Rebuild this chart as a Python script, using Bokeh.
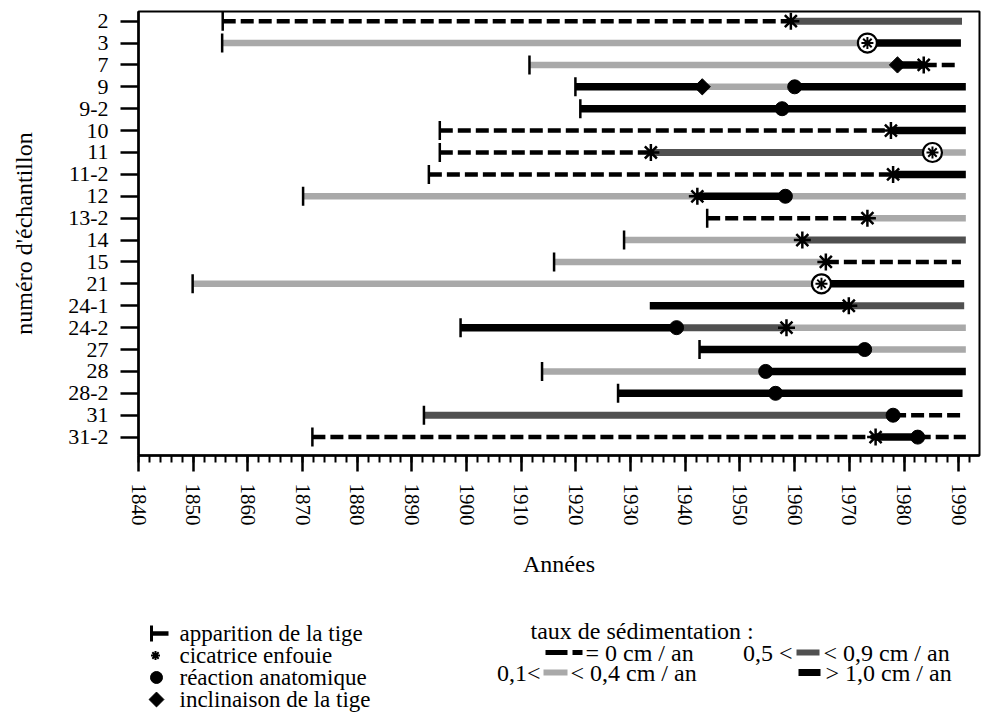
import math
from bokeh.plotting import figure
from bokeh.models import Range1d, FixedTicker, ColumnDataSource
from bokeh.layouts import column
from bokeh.embed import file_html
from bokeh.resources import INLINE
from bokeh.core.properties import value

# ---------------- data ----------------
samples = ["2", "3", "7", "9", "9-2", "10", "11", "11-2", "12", "13-2",
           "14", "15", "21", "24-1", "24-2", "27", "28", "28-2", "31", "31-2"]

year_ticks = list(range(1840, 1991, 10))
year_minor = list(range(1840, 1995, 2))

# sedimentation phases (sample, from year, to year, rate class)
phase_sample = ["2", "2", "3", "3", "7", "7", "7", "9", "9", "9", "9-2",
                "10", "10", "11", "11", "11", "11-2", "11-2", "12", "12", "12",
                "13-2", "13-2", "14", "14", "15", "15", "21", "21",
                "24-1", "24-1", "24-2", "24-2", "24-2", "27", "27", "28", "28",
                "28-2", "31", "31", "31-2", "31-2", "31-2"]
phase_from = [1855.4, 1959.3, 1855.3, 1973.3, 1911.5, 1978.8, 1983.6, 1919.9, 1943.1, 1960.0, 1920.8,
              1895.1, 1977.6, 1895.1, 1933.7, 1985.2, 1893.1, 1978.0, 1870.1, 1942.2, 1958.3,
              1944.0, 1973.3, 1928.8, 1961.4, 1916.0, 1965.7, 1849.9, 1964.9,
              1933.5, 1969.9, 1898.9, 1938.4, 1958.5, 1942.6, 1972.8, 1913.8, 1954.7,
              1927.7, 1892.2, 1978.0, 1871.8, 1974.8, 1982.5]
phase_to = [1959.3, 1990.6, 1973.3, 1990.4, 1978.8, 1983.6, 1989.9, 1943.1, 1960.0, 1991.3, 1991.3,
            1977.6, 1991.3, 1933.7, 1985.2, 1991.3, 1978.0, 1991.3, 1942.2, 1958.3, 1991.3,
            1973.3, 1991.3, 1961.4, 1991.3, 1965.7, 1990.4, 1964.9, 1991.0,
            1969.9, 1991.0, 1938.4, 1958.5, 1991.3, 1972.8, 1991.3, 1954.7, 1991.3,
            1990.7, 1978.0, 1990.7, 1974.8, 1982.5, 1991.3]
phase_rate = ["0", "0.5-0.9", "0.1-0.4", ">1.0", "0.1-0.4", ">1.0", "0", ">1.0", "0.1-0.4", ">1.0", ">1.0",
              "0", ">1.0", "0", "0.5-0.9", "0.1-0.4", "0", ">1.0", "0.1-0.4", ">1.0", "0.1-0.4",
              "0", "0.1-0.4", "0.1-0.4", "0.5-0.9", "0.1-0.4", "0", "0.1-0.4", ">1.0",
              ">1.0", "0.5-0.9", ">1.0", "0.5-0.9", "0.1-0.4", ">1.0", "0.1-0.4", "0.1-0.4", ">1.0",
              ">1.0", "0.5-0.9", "0", "0", ">1.0", "0"]

# stem emergence (apparition de la tige)
emergence_sample = ["2", "3", "7", "9", "9-2", "10", "11", "11-2", "12", "13-2",
                    "14", "15", "21", "24-2", "27", "28", "28-2", "31", "31-2"]
emergence_year = [1855.4, 1855.3, 1911.5, 1919.9, 1920.8, 1895.1, 1895.1, 1893.1, 1870.1, 1944.0,
                  1928.8, 1916.0, 1849.9, 1898.9, 1942.6, 1913.8, 1927.7, 1892.2, 1871.8]

# buried scars (cicatrice enfouie)
scar_sample = ["2", "7", "10", "11", "11-2", "12", "13-2", "14", "15", "24-1", "24-2", "31-2"]
scar_year = [1959.3, 1983.6, 1977.6, 1933.7, 1978.0, 1942.2, 1973.3, 1961.4, 1965.7, 1969.9, 1958.5, 1974.8]

# anatomical reactions (réaction anatomique)
reaction_sample = ["9", "9-2", "12", "24-2", "27", "28", "28-2", "31", "31-2"]
reaction_year = [1960.0, 1957.7, 1958.3, 1938.4, 1972.8, 1954.7, 1956.5, 1978.0, 1982.5]

# stem tilting (inclinaison de la tige)
tilt_sample = ["7", "9"]
tilt_year = [1978.8, 1943.1]

# scar + reaction at the same year (circled asterisk)
both_sample = ["3", "11", "21"]
both_year = [1973.3, 1985.2, 1964.9]

# ---------------- figure ----------------
SERIF = "Liberation Serif"
LIGHT = "#a9a9a9"
DARK = "#505050"
row = {s: i for i, s in enumerate(samples)}

MAIN_H = 596
LEG_H = 116

p = figure(width=983, height=MAIN_H, output_backend="svg", toolbar_location=None,
           x_range=Range1d(1840, 1993.8), y_range=Range1d(19.84, -0.44),
           min_border_left=138, min_border_right=4, min_border_top=11,
           min_border_bottom=MAIN_H - 455)
p.xgrid.visible = False
p.ygrid.visible = False
p.outline_line_color = "black"
p.outline_line_width = 2
p.background_fill_color = "white"
p.border_fill_color = "white"

styles = {
    "0.1-0.4": dict(line_color=LIGHT, line_width=6.5),
    "0.5-0.9": dict(line_color=DARK, line_width=7),
    ">1.0": dict(line_color="black", line_width=7.5),
    "0": dict(line_color="black", line_width=4.5, line_dash="13 5"),
}
for rate, st in styles.items():
    idx = [k for k, r in enumerate(phase_rate) if r == rate]
    src = ColumnDataSource(dict(x0=[phase_from[k] for k in idx],
                                x1=[phase_to[k] for k in idx],
                                y=[row[phase_sample[k]] for k in idx]))
    p.segment(x0="x0", y0="y", x1="x1", y1="y", source=src, line_cap="butt", **st)

p.scatter(x=emergence_year, y=[row[s] for s in emergence_sample], marker="dash",
          angle=math.pi / 2, size=19, line_color="black", line_width=2.5)
p.scatter(x=scar_year, y=[row[s] for s in scar_sample], marker="asterisk",
          size=17, line_color="black", line_width=2.5)
p.scatter(x=reaction_year, y=[row[s] for s in reaction_sample], marker="circle",
          size=14, fill_color="black", line_color="black")
p.scatter(x=tilt_year, y=[row[s] for s in tilt_sample], marker="square", angle=math.pi / 4,
          size=11.5, fill_color="black", line_color="black")
p.scatter(x=both_year, y=[row[s] for s in both_sample], marker="circle",
          size=19, fill_color="white", line_color="black", line_width=2.2)
p.scatter(x=both_year, y=[row[s] for s in both_sample], marker="asterisk",
          size=12, line_color="black", line_width=2)

# x axis
xa = p.xaxis[0]
xa.ticker = FixedTicker(ticks=year_ticks, minor_ticks=year_minor)
xa.major_label_orientation = "vertical"
xa.major_tick_out = 16
xa.major_tick_in = 0
xa.minor_tick_out = 7
xa.minor_tick_in = 0
xa.axis_line_width = 2.5
xa.major_tick_line_width = 2.5
xa.minor_tick_line_width = 2
xa.major_label_standoff = 12
xa.major_label_text_font = SERIF
xa.major_label_text_font_size = "21px"
xa.major_label_text_color = "black"
xa.axis_label = "Années"
xa.axis_label_text_font = SERIF
xa.axis_label_text_font_size = "24px"
xa.axis_label_text_font_style = "normal"
xa.axis_label_text_color = "black"
xa.axis_label_standoff = 22

# y axis
ya = p.yaxis[0]
ya.ticker = FixedTicker(ticks=list(range(len(samples))), minor_ticks=[])
ya.major_label_overrides = {i: s for i, s in enumerate(samples)}
ya.major_tick_out = 18
ya.major_tick_in = 0
ya.minor_tick_out = 0
ya.minor_tick_in = 0
ya.axis_line_width = 2.5
ya.major_tick_line_width = 2.5
ya.major_label_standoff = 12
ya.major_label_text_font = SERIF
ya.major_label_text_font_size = "22px"
ya.major_label_text_color = "black"
ya.axis_label = "numéro d'échantillon"
ya.axis_label_text_font = SERIF
ya.axis_label_text_font_size = "24px"
ya.axis_label_text_font_style = "normal"
ya.axis_label_text_color = "black"
ya.axis_label_standoff = 28

# ---------------- legend (separate panel below, pixel-like coordinates) ----------------
leg = figure(width=983, height=LEG_H, output_backend="svg", toolbar_location=None,
             x_range=Range1d(138, 979), y_range=Range1d(MAIN_H + LEG_H, MAIN_H),
             x_axis_type=None, y_axis_type=None,
             min_border_left=138, min_border_right=4, min_border_top=0, min_border_bottom=0)
leg.xgrid.visible = False
leg.ygrid.visible = False
leg.outline_line_color = None
leg.background_fill_color = "white"
leg.border_fill_color = "white"

# left column symbols
leg.segment(x0=[151], y0=[625], x1=[151], y1=[641], line_color="black", line_width=3)
leg.segment(x0=[151], y0=[633], x1=[168], y1=[633], line_color="black", line_width=4.5, line_cap="butt")
leg.scatter(x=[155], y=[655], marker="asterisk", size=9, line_color="black", line_width=2)
leg.scatter(x=[156], y=[677], marker="circle", size=12, fill_color="black", line_color="black")
leg.scatter(x=[156], y=[699], marker="square", angle=math.pi / 4, size=10.5,
            fill_color="black", line_color="black")
left_texts = ["apparition de la tige", "cicatrice enfouie", "réaction anatomique", "inclinaison de la tige"]
leg.text(x=[179] * 4, y=[633, 655, 677, 699], text=left_texts, text_font=value(SERIF),
         text_font_size=value("23px"), text_baseline="middle", text_align="left", text_color="black")

# right column (sedimentation rates)
leg.segment(x0=[545], y0=[652], x1=[582], y1=[652], line_color="black", line_width=5,
            line_dash="22 5", line_cap="butt")
leg.segment(x0=[796], y0=[652], x1=[819], y1=[652], line_color=DARK, line_width=6, line_cap="butt")
leg.segment(x0=[543], y0=[672], x1=[567], y1=[672], line_color=LIGHT, line_width=6, line_cap="butt")
leg.segment(x0=[798], y0=[672], x1=[820], y1=[672], line_color="black", line_width=7, line_cap="butt")
left_aligned = ["taux de sédimentation :", "= 0 cm / an", "< 0,9 cm / an", "< 0,4 cm / an", "> 1,0 cm / an"]
leg.text(x=[530, 585, 823, 570, 825], y=[630, 652, 652, 672, 672], text=left_aligned,
         text_font=value(SERIF), text_font_size=value("24px"), text_baseline="middle",
         text_align="left", text_color="black")
right_aligned = ["0,5 <", "0,1<"]
leg.text(x=[792, 540], y=[652, 672], text=right_aligned,
         text_font=value(SERIF), text_font_size=value("24px"), text_baseline="middle",
         text_align="right", text_color="black")

layout = column(p, leg, spacing=0)
open("out.html", "w").write(file_html(layout, INLINE))
